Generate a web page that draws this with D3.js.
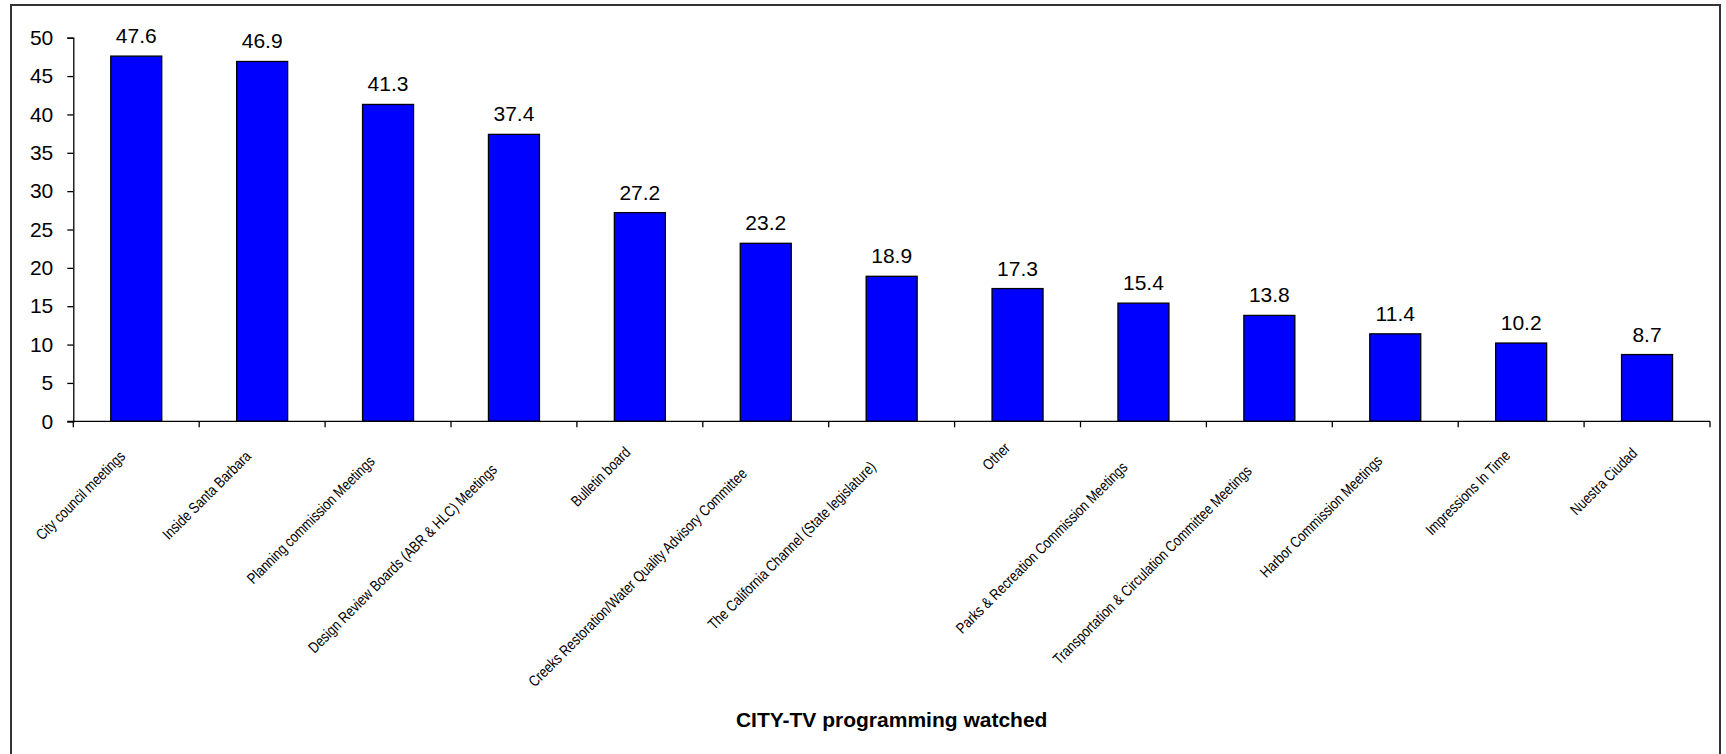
<!DOCTYPE html>
<html>
<head>
<meta charset="utf-8">
<script src="https://cdn.jsdelivr.net/npm/d3@7"></script>
<style>
  html, body { margin: 0; padding: 0; background: #fff; }
  svg { display: block; }
  text { font-family: "Liberation Sans", Arial, sans-serif; fill: #000; }
</style>
</head>
<body>
<svg id="chart" width="1726" height="754"></svg>
<script>
const categories = [
  "City council meetings",
  "Inside Santa Barbara",
  "Planning commission Meetings",
  "Design Review Boards (ABR & HLC) Meetings",
  "Bulletin board",
  "Creeks Restoration/Water Quality Advisory Committee",
  "The California Channel (State legislature)",
  "Other",
  "Parks & Recreation Commission Meetings",
  "Transportation & Circulation Committee Meetings",
  "Harbor Commission Meetings",
  "Impressions In Time",
  "Nuestra Ciudad"
];
const values = [47.6, 46.9, 41.3, 37.4, 27.2, 23.2, 18.9, 17.3, 15.4, 13.8, 11.4, 10.2, 8.7];
const yTicks = [0, 5, 10, 15, 20, 25, 30, 35, 40, 45, 50];
const title = "CITY-TV programming watched";

const svg = d3.select("#chart");
svg.append("rect").attr("x", 0).attr("y", 0).attr("width", 1726).attr("height", 754).attr("fill", "#fff");

// outer border
svg.append("rect")
  .attr("x", 11).attr("y", 5).attr("width", 1709).attr("height", 800)
  .attr("fill", "none").attr("stroke", "#333").attr("stroke-width", 2);

const x = d3.scaleBand().domain(categories).range([73.3, 1710]).padding(0);
const y = d3.scaleLinear().domain([0, 50]).range([421.3, 37.7]);
const step = x.step();
const barW = step * 0.405;

// y axis
const yAxis = d3.axisLeft(y).tickValues(yTicks).tickSize(6).tickPadding(14).tickFormat(d3.format("d"));
const gy = svg.append("g").attr("transform", "translate(73.3,0)").call(yAxis);
gy.select(".domain").attr("stroke", "#000").attr("stroke-width", 1.3);
gy.selectAll(".tick line").attr("stroke", "#000").attr("stroke-width", 1.3);
gy.selectAll(".tick text").style("font-size", "21px").style("font-family", "'Liberation Sans', Arial, sans-serif").attr("fill", "#000");

// bars
svg.append("g").selectAll("rect").data(values).join("rect")
  .attr("x", (d, i) => x(categories[i]) + (step - barW) / 2)
  .attr("y", d => y(d))
  .attr("width", barW)
  .attr("height", d => y(0) - y(d))
  .attr("fill", "#0000FF")
  .attr("stroke", "#000")
  .attr("stroke-width", 1.3);

// x axis line and boundary ticks
const x0 = x.range()[0], x1 = x.range()[1];
svg.append("line").attr("x1", x0 - 6).attr("x2", x1).attr("y1", y(0)).attr("y2", y(0))
  .attr("stroke", "#000").attr("stroke-width", 1.3);
const bounds = categories.map(c => x(c)).concat([x1]);
svg.append("g").selectAll("line").data(bounds).join("line")
  .attr("x1", d => d).attr("x2", d => d)
  .attr("y1", y(0)).attr("y2", y(0) + 6)
  .attr("stroke", "#000").attr("stroke-width", 1.3);

// value labels
svg.append("g").selectAll("text").data(values).join("text")
  .attr("x", (d, i) => x(categories[i]) + step / 2)
  .attr("y", d => y(d) - 13)
  .attr("text-anchor", "middle")
  .style("font-size", "21px")
  .text(d => d3.format(".1f")(d));

// category labels (rotated, narrow)
const narrow = 0.82;
const labels = svg.append("g").selectAll("text").data(categories).join("text")
  .attr("text-anchor", "end")
  .style("font-size", "15.3px")
  .attr("fill", "#111")
  .text(c => c);
labels.each(function(c) {
  const L = this.getComputedTextLength() * narrow;
  const ex = x(c) + step / 2 - 5.2 - 0.042 * L;
  const ey = y(0) + 24.7 + 0.095 * L;
  d3.select(this).attr("transform", `translate(${ex},${ey}) rotate(-45) scale(${narrow},1)`);
});

// title
svg.append("text")
  .attr("x", (x0 + x1) / 2)
  .attr("y", 726.7)
  .attr("text-anchor", "middle")
  .style("font-size", "21px")
  .style("font-weight", "bold")
  .text(title);
</script>
</body>
</html>
